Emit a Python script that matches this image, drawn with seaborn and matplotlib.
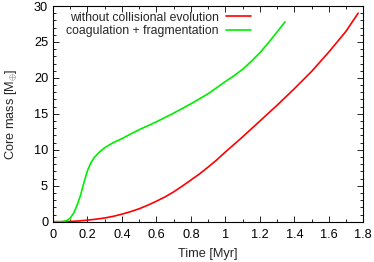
import numpy as np
import pandas as pd
import matplotlib
matplotlib.use("Agg")
import matplotlib.pyplot as plt
import seaborn as sns
from matplotlib.ticker import MultipleLocator, FuncFormatter

# Data
time_nocoll = [0.0, 0.07, 0.15, 0.2, 0.25, 0.3, 0.35, 0.4, 0.45, 0.5, 0.55, 0.6, 0.65, 0.7,
               0.75, 0.8, 0.85, 0.9, 0.95, 1.0, 1.1, 1.2, 1.3, 1.4, 1.5, 1.6, 1.7, 1.77]
mass_nocoll = [0.0, 0.0, 0.1, 0.22, 0.35, 0.52, 0.75, 1.05, 1.4, 1.8, 2.3, 2.85, 3.45, 4.15,
               4.95, 5.8, 6.65, 7.6, 8.6, 9.7, 11.8, 14.0, 16.2, 18.5, 20.9, 23.6, 26.5, 29.0]
time_coag = [0.0, 0.05, 0.08, 0.1, 0.12, 0.14, 0.16, 0.18, 0.2, 0.22, 0.24, 0.27, 0.3, 0.35,
             0.4, 0.45, 0.5, 0.6, 0.7, 0.8, 0.9, 1.0, 1.05, 1.1, 1.15, 1.2, 1.25, 1.3, 1.346]
mass_coag = [0.0, 0.0, 0.15, 0.5, 1.2, 2.3, 3.7, 5.5, 7.1, 8.2, 8.95, 9.7, 10.3, 11.0,
             11.55, 12.2, 12.8, 13.9, 15.1, 16.4, 17.8, 19.5, 20.3, 21.2, 22.3, 23.5, 24.9,
             26.4, 27.8]
labels = ["without collisional evolution", "coagulation + fragmentation"]
colors = ["#ff0000", "#00ee00"]

df = pd.concat([
    pd.DataFrame({"t": time_nocoll, "m": mass_nocoll, "s": labels[0]}),
    pd.DataFrame({"t": time_coag, "m": mass_coag, "s": labels[1]}),
], ignore_index=True)

sns.set_theme(style="ticks")
plt.rcParams["font.family"] = ["Liberation Sans", "DejaVu Sans"]
plt.rcParams["mathtext.fontset"] = "custom"
plt.rcParams["mathtext.rm"] = "Liberation Sans"
plt.rcParams["mathtext.it"] = "Liberation Sans"

FS = 9.2
fig = plt.figure(figsize=(3.74, 2.62), dpi=100)
ax = fig.add_axes([0.1417, 0.1538, 0.8297, 0.8232])

sns.lineplot(data=df, x="t", y="m", hue="s", palette=dict(zip(labels, colors)),
             hue_order=labels, ax=ax, linewidth=1.2, sort=True, estimator=None)

ax.set_xlim(0, 1.8)
ax.set_ylim(0, 30)
ax.xaxis.set_major_locator(MultipleLocator(0.2))
ax.xaxis.set_minor_locator(MultipleLocator(0.1))
ax.yaxis.set_major_locator(MultipleLocator(5))
ax.yaxis.set_minor_locator(MultipleLocator(1))
ax.xaxis.set_major_formatter(FuncFormatter(lambda v, p: f"{round(v, 2):g}"))
ax.yaxis.set_major_formatter(FuncFormatter(lambda v, p: f"{round(v, 2):g}"))
ax.tick_params(which="both", direction="in", top=True, right=True, colors="black",
               labelsize=FS, width=0.6)
ax.tick_params(which="major", length=4)
ax.tick_params(which="minor", length=2)
ax.tick_params(axis="x", pad=5)
for sp in ax.spines.values():
    sp.set_linewidth(0.8)
    sp.set_color("black")

ax.set_xlabel("Time [Myr]", fontsize=FS, labelpad=5)
ax.set_ylabel(r"Core mass [M$_{\oplus}$]", fontsize=FS, labelpad=11)

leg = ax.legend(loc="upper right", bbox_to_anchor=(0.645, 0.985), frameon=False,
                markerfirst=False, fontsize=8.8, handlelength=2.0, handletextpad=0.6,
                labelspacing=0.1, borderaxespad=0.0, borderpad=0.2)
leg.set_title(None)

fig.savefig("out.png", dpi=100)
